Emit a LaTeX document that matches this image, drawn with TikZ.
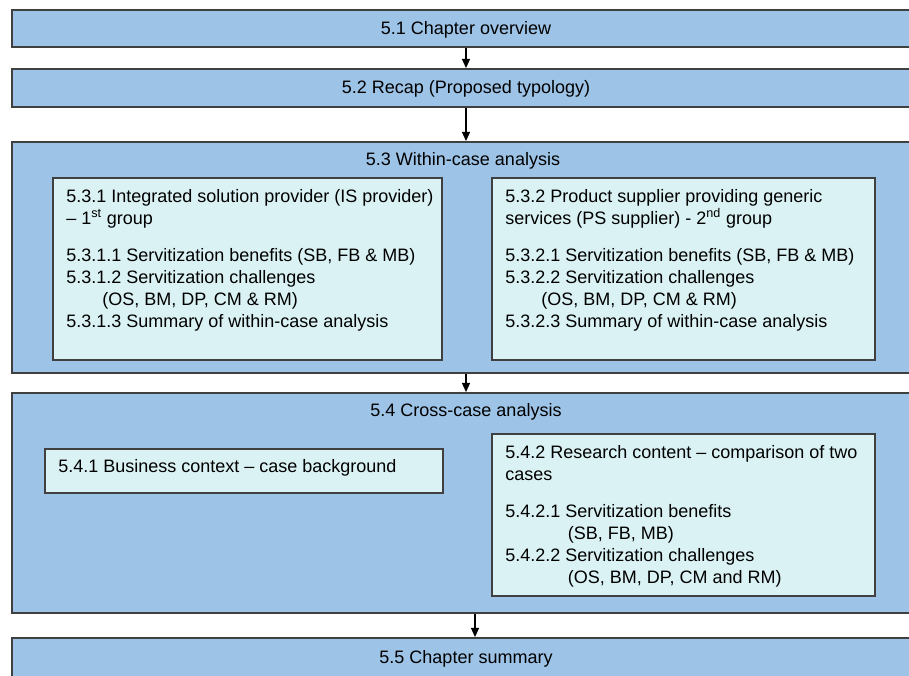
\documentclass[tikz,border=0pt]{standalone}
\usepackage{fontspec}
\setmainfont{Liberation Sans}
\usetikzlibrary{arrows.meta}
\definecolor{outerfill}{HTML}{9DC3E6}
\definecolor{innerfill}{HTML}{DAF2F4}
\definecolor{edge}{HTML}{404040}
\newcommand{\sups}[1]{\smash{\textsuperscript{#1}}}
\begin{document}
\begin{tikzpicture}[x=0.75pt,y=-0.75pt,
  every node/.style={font=\fontsize{13.5pt}{16.5pt}\selectfont},
  section/.style={draw=edge,line width=1.3pt,fill=outerfill,minimum width=712.5pt,inner sep=0pt},
  subbox/.style={draw=edge,line width=1pt,fill=innerfill,inner sep=0pt},
  title/.style={anchor=base,inner sep=0pt},
  body/.style={anchor=north west,align=left,inner sep=0pt},
  flow/.style={-{Triangle[length=7pt,width=6pt]},line width=1.2pt,black}]
\useasboundingbox (0,0) rectangle (909,675);
\clip (0,0) rectangle (909,675);

% chapter sections (they run on past the right and bottom edges)
\node[section,minimum height=27.75pt] (s51) at (487,28.5) {};
\node[section,minimum height=28.5pt] (s52) at (487,88) {};
\node[section,minimum height=173.25pt] (s53) at (487,257.5) {};
\node[section,minimum height=165pt] (s54) at (487,503) {};
\node[section,minimum height=45pt] (s55) at (487,668) {};

\node[title] (t51) at (466,34.5) {5.1 Chapter overview};
\node[title] (t52) at (466,93.5) {5.2 Recap (Proposed typology)};
\node[title] (t53) at (463,165.5) {5.3 Within-case analysis};
\node[title] (t54) at (466,416.5) {5.4 Cross-case analysis};
\node[title] (t55) at (466,663.5) {5.5 Chapter summary};
\coordinate (c54) at (475,600);

% within-case sub-sections
\node[subbox,minimum width=291.75pt,minimum height=136.5pt] (b531) at (247.5,269) {};
\node[subbox,minimum width=287.25pt,minimum height=136.5pt] (b532) at (683.5,269) {};
\node[body] (x531) at (66,187) {\strut 5.3.1 Integrated solution provider (IS provider)\\
  -- 1\sups{st} group\\[11pt]
  5.3.1.1 Servitization benefits (SB, FB \& MB)\\
  5.3.1.2 Servitization challenges\\
  \hspace*{27pt}(OS, BM, DP, CM \& RM)\\
  5.3.1.3 Summary of within-case analysis};
\node[body] (x532) at (505,187) {\strut 5.3.2 Product supplier providing generic\\
  services (PS supplier) - 2\sups{nd} group\\[11pt]
  5.3.2.1 Servitization benefits (SB, FB \& MB)\\
  5.3.2.2 Servitization challenges\\
  \hspace*{27pt}(OS, BM, DP, CM \& RM)\\
  5.3.2.3 Summary of within-case analysis};

% cross-case sub-sections
\node[subbox,minimum width=298.5pt,minimum height=33pt] (b541) at (244,471) {};
\node[subbox,minimum width=287.25pt,minimum height=121.5pt] (b542) at (683.5,515) {};
\node[body] (x541) at (58,457) {\strut 5.4.1 Business context -- case background};
\node[body] (x542) at (505,443) {\strut 5.4.2 Research content -- comparison of two\\
  cases\\[11pt]
  5.4.2.1 Servitization benefits\\
  \hspace*{47pt}(SB, FB, MB)\\
  5.4.2.2 Servitization challenges\\
  \hspace*{47pt}(OS, BM, DP, CM and RM)};

% flow between sections
\draw[flow] (t51 |- s51.south) -- (t51 |- s52.north);
\draw[flow] (t52 |- s52.south) -- (t52 |- s53.north);
\draw[flow] (t54 |- s53.south) -- (t54 |- s54.north);
\draw[flow] (c54 |- s54.south) -- (c54 |- s55.north);
\end{tikzpicture}
\end{document}
